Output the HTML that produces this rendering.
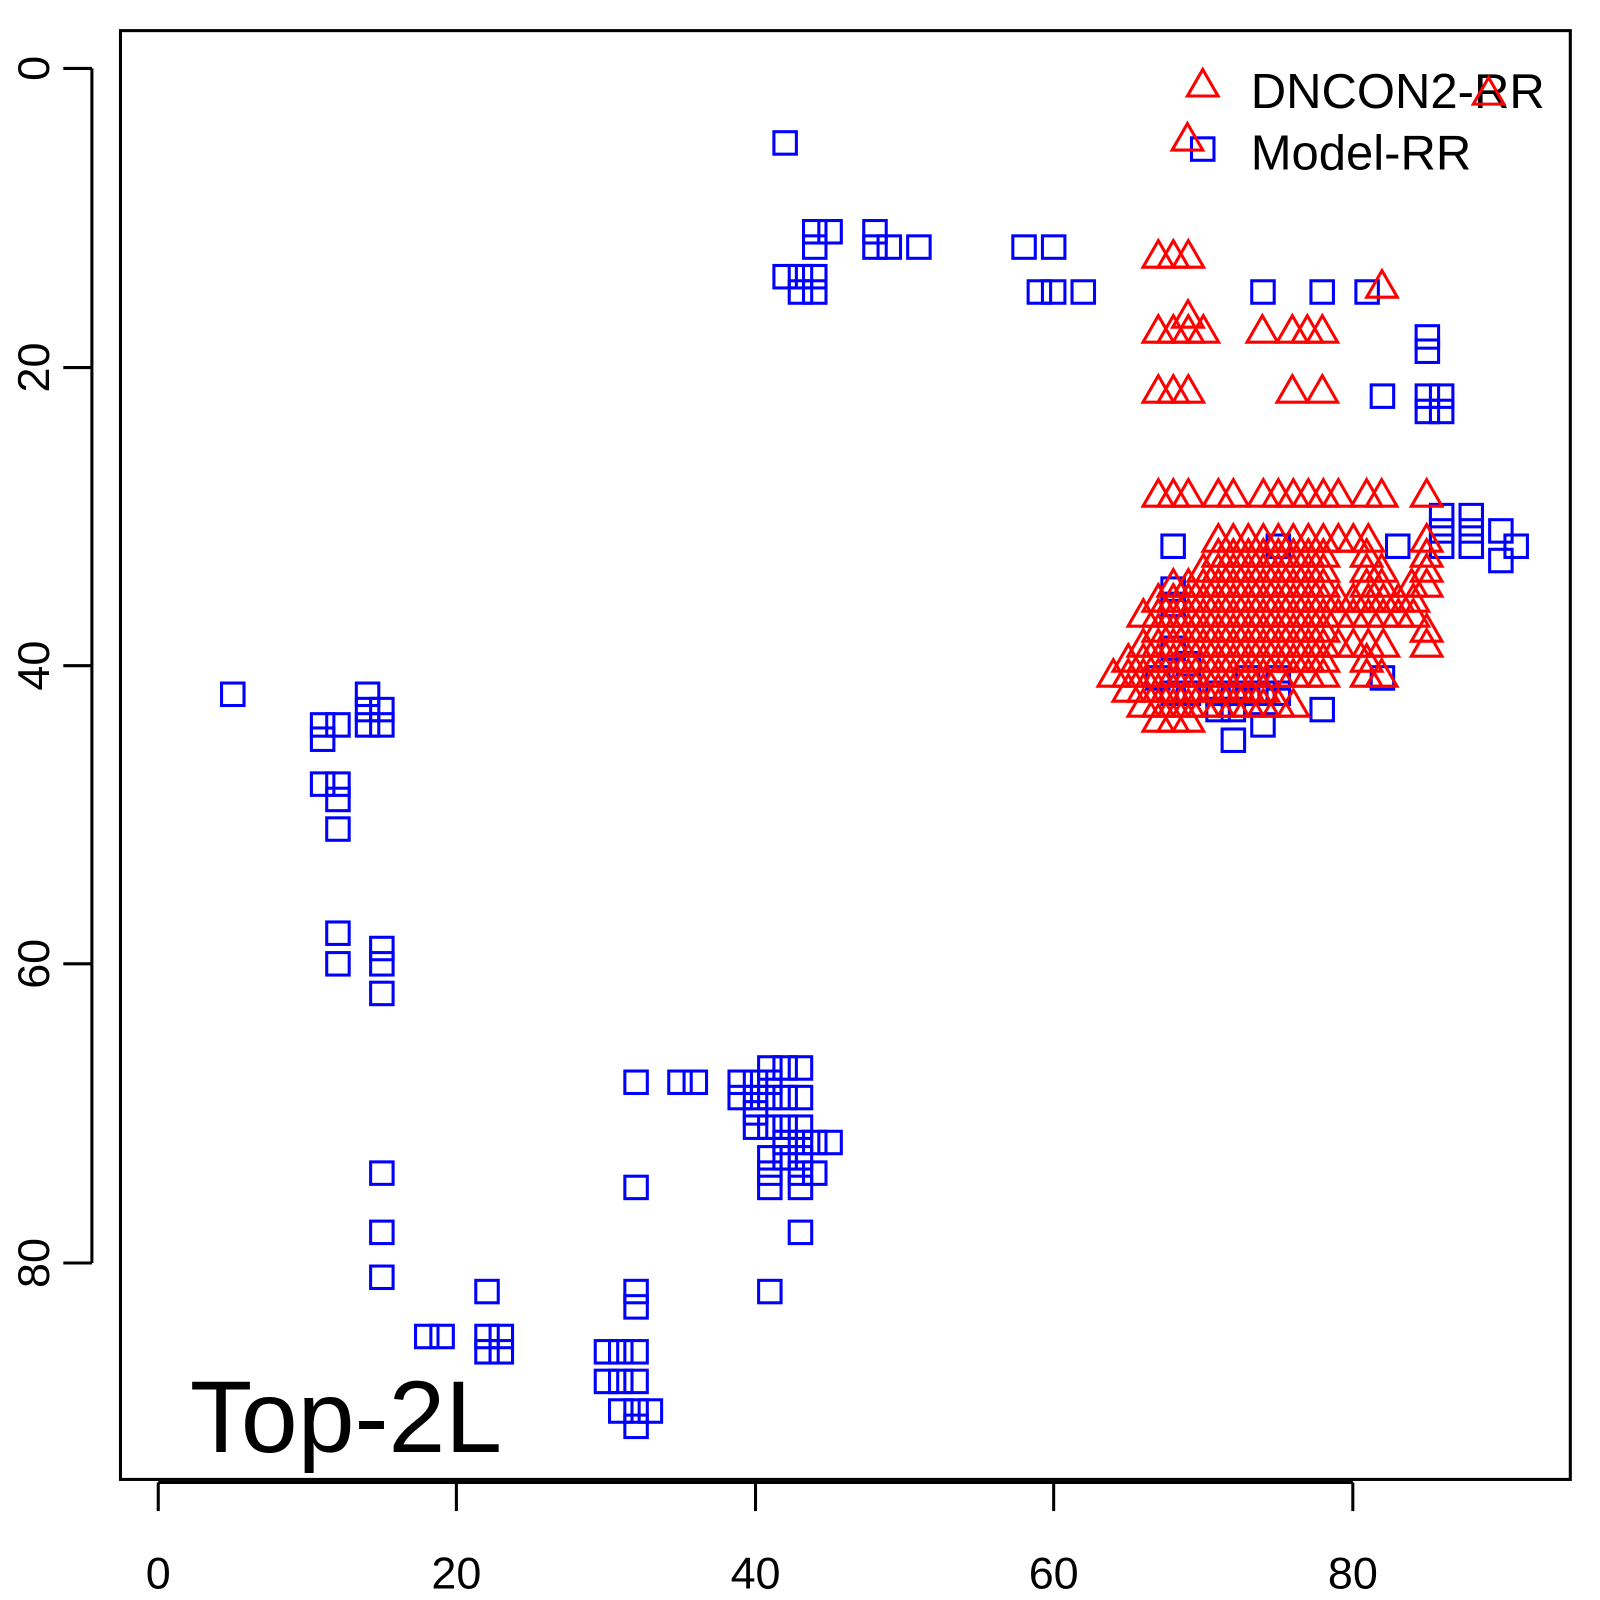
<!DOCTYPE html>
<html><head><meta charset="utf-8"><style>html,body{margin:0;padding:0;background:#fff}</style></head>
<body>
<svg id="s" width="1600" height="1600" xmlns="http://www.w3.org/2000/svg" style="display:block;font-family:'Liberation Sans',sans-serif">
<g transform="scale(1.021)">
<rect x="118" y="30" width="1420" height="1419" fill="none" stroke="#000" stroke-width="3"/>
<g stroke="#000" stroke-width="3">
<line x1="155" y1="1452" x2="1325" y2="1452"/>
<line x1="155" y1="1452" x2="155" y2="1480"/><line x1="447" y1="1452" x2="447" y2="1480"/><line x1="740" y1="1452" x2="740" y2="1480"/><line x1="1032" y1="1452" x2="1032" y2="1480"/><line x1="1325" y1="1452" x2="1325" y2="1480"/>
<line x1="90" y1="67" x2="90" y2="1237"/>
<line x1="62" y1="67" x2="90" y2="67"/><line x1="62" y1="360" x2="90" y2="360"/><line x1="62" y1="652" x2="90" y2="652"/><line x1="62" y1="944" x2="90" y2="944"/><line x1="62" y1="1237" x2="90" y2="1237"/>
</g>
<g font-size="44" text-anchor="middle" fill="#000">
<text x="155" y="1556">0</text><text x="447" y="1556">20</text><text x="740" y="1556">40</text><text x="1032" y="1556">60</text><text x="1325" y="1556">80</text>
<text transform="translate(48,67) rotate(-90)">0</text>
<text transform="translate(48,360) rotate(-90)">20</text>
<text transform="translate(48,652) rotate(-90)">40</text>
<text transform="translate(48,944) rotate(-90)">60</text>
<text transform="translate(48,1237) rotate(-90)">80</text>
</g>
<text x="186" y="1422" font-size="100" fill="#000">Top-2L</text>
<text x="1225" y="106" font-size="48" fill="#000">DNCON2-RR</text>
<text x="1225" y="166" font-size="48" fill="#000">Model-RR</text>
<g id="pts" fill="none" stroke-width="3"></g>
</g>
</svg>
<script>
var g=document.getElementById('pts'),h='';
var K=1/1.021;
function sq(x,y){h+='<rect x="'+(x-11)+'" y="'+(y-11)+'" width="22" height="22" stroke="#00f"/>';}
function trr(x,y){h+='<polygon points="'+x+','+(y-17)+' '+(x-15)+','+(y+9)+' '+(x+15)+','+(y+9)+'" stroke="#f00"/>';}
function tr(x,y){trr(x*K,y*K);}
var S=[[228,680],[316,710],[316,724],[331,710],[360,680],[360,695],[360,710],[374,695],[374,710],[316,768],[331,768],[331,783],[331,812],[331,914],[331,944],[374,929],[374,944],[374,973],[374,1149],[374,1207],[374,1251],[418,1309],[433,1309],[477,1265],[477,1309],[477,1324],[491,1309],[491,1324],[594,1324],[608,1324],[623,1324],[594,1353],[608,1353],[623,1353],[608,1382],[623,1382],[637,1382],[623,1397],[623,1280],[623,1265],[623,1163],[623,1060],[666,1060],[681,1060],[725,1060],[725,1075],[740,1060],[740,1075],[740,1090],[740,1104],[754,1046],[754,1060],[754,1075],[769,1046],[784,1046],[769,1075],[784,1075],[754,1104],[769,1104],[784,1104],[754,1134],[754,1149],[754,1163],[769,1119],[784,1119],[798,1119],[813,1119],[769,1134],[784,1134],[784,1149],[798,1149],[784,1163],[784,1207],[754,1265],
[769,140],[798,227],[813,227],[798,242],[857,227],[857,242],[871,242],[900,242],[769,271],[784,271],[798,271],[784,286],[798,286],[1003,242],[1032,242],[1018,286],[1032,286],[1061,286],[1237,286],[1295,286],[1339,286],[1398,330],[1398,344],[1354,388],[1398,388],[1412,388],[1398,403],[1412,403],[1412,505],[1412,520],[1412,535],[1441,505],[1441,520],[1441,535],[1470,520],[1470,549],[1485,535],[1149,535],[1252,535],[1369,535],[1354,664],[1295,695],[1208,725],[1237,710],
[1149,577],[1149,592],[1149,635],[1164,650],[1134,664],[1149,679],[1164,679],[1193,679],[1208,679],[1222,679],[1237,679],[1252,679],[1193,695],[1208,695],[1222,664],[1252,664],[1178,146]];
S.forEach(function(p){sq(p[0],p[1]);});
function cx(c){return 1090+c/3;}
function row(y,a,b){for(var c=a;c<=b;c+=45)tr(cx(c),y);}
function one(y,c){tr(cx(c),y);}
row(258,205,295);
row(333,205,340);tr(1188,318);one(333,517);row(333,607,697);
row(393,205,295);one(393,607);one(393,697);
tr(1382,288);
[205,250,295,385,430,520,565,610,655,700,745,830,875,1010].forEach(function(c){one(497,c);});
row(542,385,875);one(542,1010);
row(557,385,700);one(557,830);one(557,1010);
row(572,340,740);one(572,830);one(572,875);one(572,1010);
row(587,250,740);one(587,830);one(587,875);one(587,965);one(587,1010);
row(602,205,1010);
row(617,160,1010);
row(632,205,700);one(632,1010);
row(647,160,920);one(647,1010);
row(662,115,700);one(662,830);
row(677,70,740);one(677,830);one(677,875);
row(692,115,560);
row(707,160,650);
row(722,205,295);
trr(1178,85);trr(1458,93);trr(1163,138);
g.innerHTML=h;
</script>
</body></html>
